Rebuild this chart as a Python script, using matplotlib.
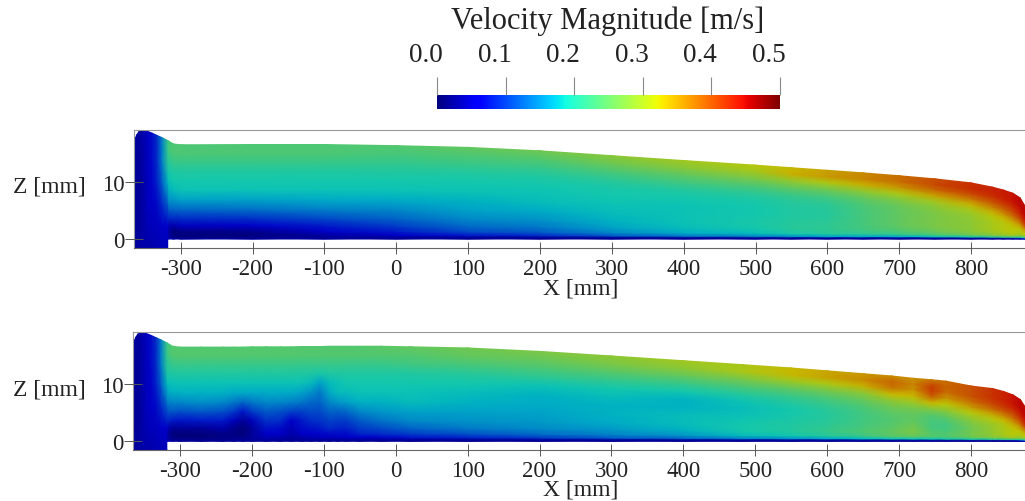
import numpy as np
import matplotlib
matplotlib.use('Agg')
import matplotlib.pyplot as plt
from matplotlib.colors import ListedColormap

plt.rcParams['font.family'] = ['Liberation Serif', 'DejaVu Serif']
plt.rcParams['axes.unicode_minus'] = False

W, H = 1025, 502

# height levels as a fraction of the local free surface, wall to surface
levels = [0, .015, .04, .08, .14, .22, .32, .42, .52, .62, .72, .82, .91, 1]

# inlet block, from Z=-1.5 up to the surface
inlet_x = [-365.6, -365, -363.5, -361, -358, -354, -347, -340, -333, -326, -318]
inlet_surface = [16, 16.8, 17.5, 18.2, 18.75, 19, 18.85, 18.5, 18.1, 17.7, 17.2]
inlet_levels = [0, .2, .4, .6, .8, 1]
inlet_u = [
    [.03, .03, .03, .03, .03, .03],
    [.03, .03, .03, .03, .03, .03],
    [.03, .03, .03, .03, .03, .035],
    [.035, .03, .03, .03, .03, .035],
    [.035, .03, .03, .03, .03, .035],
    [.04, .035, .035, .035, .035, .04],
    [.04, .045, .05, .05, .05, .05],
    [.04, .05, .06, .065, .07, .07],
    [.045, .05, .07, .085, .09, .09],
    [.045, .055, .09, .12, .14, .14],
    [.05, .06, .12, .175, .21, .22],
]

# top panel, one row per station
top_x = [-318, -310, -300, -200, -100, 0, 100, 200, 300, 400, 500, 550, 600,
         650, 700, 750, 800, 830, 845, 858, 868, 875]
top_surface = [17.2, 16.6, 16.45, 16.5, 16.5, 16.3, 16.0, 15.4, 14.55, 13.7, 12.9,
               12.45, 12.0, 11.55, 11.05, 10.5, 9.8, 9.05, 8.55, 8.0, 7.2, 5.76]
top_u = [
    [.05, .04, .04, .04, .05, .09, .13, .16, .175, .185, .195, .21, .225, .225],
    [.04, .02, .015, .015, .04, .09, .13, .16, .18, .19, .2, .22, .235, .235],
    [.035, .02, .015, .02, .05, .09, .13, .165, .185, .19, .2, .22, .235, .235],
    [.035, .025, .015, .025, .06, .095, .135, .165, .185, .19, .2, .22, .235, .235],
    [.035, .03, .035, .055, .08, .11, .145, .17, .185, .19, .2, .22, .235, .235],
    [.03, .03, .055, .08, .10, .125, .15, .17, .185, .19, .2, .215, .23, .24],
    [.03, .03, .08, .11, .13, .15, .165, .175, .185, .19, .2, .22, .235, .25],
    [.03, .03, .09, .12, .14, .155, .17, .18, .185, .19, .2, .22, .24, .26],
    [.03, .03, .12, .15, .165, .175, .18, .185, .19, .195, .21, .235, .26, .28],
    [.03, .03, .14, .17, .18, .185, .185, .185, .19, .2, .225, .25, .28, .30],
    [.03, .03, .15, .18, .19, .195, .19, .19, .195, .21, .235, .27, .30, .315],
    [.03, .03, .16, .195, .205, .205, .2, .2, .205, .22, .25, .29, .335, .33],
    [.03, .03, .17, .205, .21, .21, .205, .205, .21, .23, .26, .31, .35, .345],
    [.03, .03, .17, .21, .225, .23, .23, .23, .235, .25, .285, .335, .365, .36],
    [.03, .03, .17, .22, .24, .25, .25, .25, .255, .275, .31, .355, .38, .38],
    [.03, .03, .185, .24, .26, .27, .27, .27, .28, .30, .345, .385, .405, .40],
    [.03, .03, .2, .265, .28, .285, .285, .29, .305, .335, .375, .41, .425, .42],
    [.03, .03, .21, .28, .30, .305, .305, .315, .335, .37, .40, .42, .43, .43],
    [.03, .03, .22, .29, .31, .315, .315, .33, .36, .39, .415, .43, .435, .435],
    [.03, .04, .22, .30, .32, .32, .33, .355, .385, .41, .425, .44, .44, .44],
    [.04, .05, .2, .28, .31, .32, .345, .38, .41, .43, .44, .45, .45, .45],
    [.05, .08, .2, .28, .32, .335, .37, .41, .43, .44, .45, .45, .45, .44],
]

# bottom panel, one row per station
bottom_x = [-318, -310, -300, -270, -240, -225, -212, -200, -180, -160, -145, -130,
            -118, -105, -92, -80, -68, -50, -20, 20, 100, 200, 300, 400, 480, 550,
            600, 650, 690, 720, 745, 765, 800, 830, 845, 858, 868, 875]
bottom_surface = [17.2, 16.6, 16.45, 16.45, 16.45, 16.45, 16.45, 16.5, 16.5, 16.5, 16.5,
                  16.55, 16.55, 16.55, 16.6, 16.6, 16.6, 16.6, 16.6, 16.5, 16.3, 15.7,
                  14.9, 14.07, 13.4, 12.8, 12.3, 11.8, 11.4, 11.0, 10.75, 10.5, 9.65,
                  9.2, 8.7, 8.1, 7.3, 6.0]
bottom_u = [
    [.05, .04, .04, .04, .05, .09, .12, .15, .17, .185, .2, .21, .225, .22],
    [.04, .025, .02, .015, .03, .08, .12, .15, .175, .185, .2, .22, .24, .24],
    [.03, .025, .015, .015, .03, .075, .115, .15, .175, .185, .2, .22, .24, .24],
    [.03, .025, .015, .015, .03, .08, .12, .155, .175, .185, .2, .22, .24, .24],
    [.03, .025, .02, .02, .04, .08, .115, .15, .175, .185, .2, .22, .24, .24],
    [.03, .03, .02, .02, .025, .05, .10, .14, .17, .185, .2, .22, .24, .24],
    [.03, .03, .02, .015, .015, .03, .08, .13, .17, .185, .2, .22, .24, .24],
    [.03, .03, .03, .03, .03, .05, .10, .14, .17, .185, .2, .22, .24, .24],
    [.03, .035, .045, .06, .075, .095, .12, .15, .17, .185, .2, .22, .24, .24],
    [.03, .03, .04, .055, .07, .09, .115, .15, .17, .185, .2, .22, .24, .24],
    [.03, .03, .03, .04, .045, .06, .105, .145, .17, .185, .2, .22, .24, .24],
    [.03, .03, .04, .06, .07, .08, .105, .14, .165, .185, .2, .22, .24, .24],
    [.03, .03, .045, .06, .075, .09, .11, .13, .155, .18, .2, .22, .24, .24],
    [.03, .03, .05, .065, .08, .095, .11, .125, .14, .165, .195, .22, .24, .24],
    [.03, .03, .05, .07, .09, .105, .125, .15, .17, .18, .2, .22, .24, .24],
    [.03, .03, .05, .07, .085, .10, .125, .16, .18, .185, .2, .22, .24, .24],
    [.03, .03, .055, .07, .085, .10, .13, .165, .18, .19, .2, .22, .24, .24],
    [.03, .03, .06, .085, .10, .12, .15, .175, .185, .19, .2, .22, .24, .24],
    [.03, .03, .065, .09, .11, .135, .16, .175, .185, .19, .2, .22, .24, .245],
    [.03, .03, .075, .10, .125, .15, .165, .18, .185, .19, .2, .225, .24, .25],
    [.03, .03, .085, .115, .14, .155, .165, .175, .18, .19, .205, .23, .25, .26],
    [.03, .03, .10, .13, .15, .16, .165, .17, .175, .185, .21, .235, .255, .27],
    [.03, .03, .12, .145, .16, .17, .175, .175, .18, .19, .215, .245, .27, .285],
    [.03, .03, .13, .16, .175, .18, .18, .175, .175, .19, .22, .255, .285, .30],
    [.03, .03, .15, .18, .19, .19, .185, .18, .185, .205, .235, .27, .305, .305],
    [.03, .03, .16, .19, .2, .2, .195, .19, .2, .22, .25, .295, .33, .33],
    [.03, .03, .17, .205, .215, .21, .205, .205, .215, .235, .265, .31, .345, .34],
    [.03, .03, .18, .22, .235, .23, .225, .225, .235, .255, .285, .335, .36, .35],
    [.03, .03, .19, .245, .25, .245, .24, .245, .26, .285, .33, .375, .385, .36],
    [.03, .03, .19, .25, .27, .265, .25, .25, .265, .295, .33, .355, .365, .355],
    [.03, .03, .19, .24, .24, .23, .23, .24, .275, .33, .385, .415, .41, .37],
    [.03, .03, .2, .235, .235, .225, .23, .25, .285, .32, .355, .38, .385, .38],
    [.03, .03, .2, .26, .265, .26, .27, .29, .315, .35, .38, .40, .40, .40],
    [.03, .03, .21, .28, .29, .29, .295, .315, .345, .385, .41, .42, .42, .42],
    [.03, .03, .22, .29, .305, .305, .31, .33, .365, .40, .42, .43, .43, .43],
    [.03, .04, .22, .30, .32, .32, .33, .355, .385, .41, .43, .44, .44, .44],
    [.04, .05, .2, .28, .31, .32, .345, .38, .41, .43, .44, .45, .45, .45],
    [.05, .08, .2, .28, .32, .335, .37, .41, .43, .44, .45, .45, .45, .44],
]

xticks = [-300, -200, -100, 0, 100, 200, 300, 400, 500, 600, 700, 800]
zticks = [0, 10]
cbar_ticks = [0.0, 0.1, 0.2, 0.3, 0.4, 0.5]

# the field is lit in the original so it looks darker than the colour bar
jet = plt.get_cmap('jet')
shaded = jet(np.linspace(0, 1, 256))
shaded[:, :3] *= 0.78
field_cmap = ListedColormap(shaded)


def px_axes(fig, left, top, right, bottom):
    return fig.add_axes([left / W, 1 - bottom / H, (right - left) / W, (bottom - top) / H])


def draw_mesh(ax, x, surface, fractions, u, base=0.0):
    x = np.array(x)
    surface = np.array(surface)
    fractions = np.array(fractions)
    xx = np.repeat(x[:, None], len(fractions), axis=1)
    zz = base + np.outer(surface - base, fractions)
    ax.pcolormesh(xx, zz, np.array(u), shading='gouraud', cmap=field_cmap,
                  vmin=0, vmax=0.5, rasterized=True)


def draw_panel(fig, box, xlim, zlim, x, surface, u, xlabel_y, zlabel_y):
    ax = px_axes(fig, *box)
    draw_mesh(ax, x, surface, levels, u)
    draw_mesh(ax, inlet_x, inlet_surface, inlet_levels, inlet_u, base=-1.5)
    ax.set_xlim(xlim)
    ax.set_ylim(zlim)
    ax.set_xticks(xticks)
    ax.set_yticks(zticks)
    ax.tick_params(axis='x', direction='inout', length=9, width=0.7, color='#555555',
                   labelsize=16.5, labelcolor='#222222', pad=3)
    ax.tick_params(axis='y', direction='inout', length=13, width=0.7, color='#555555',
                   labelsize=16.5, labelcolor='#222222', pad=0)
    ax.spines['right'].set_visible(False)
    ax.spines['top'].set_color('#999999')
    ax.spines['left'].set_color('#999999')
    ax.spines['bottom'].set_color('#666666')
    ax.set_axisbelow(False)
    fig.text(581 / W, 1 - xlabel_y / H, 'X [mm]', ha='center', va='center',
             fontsize=17, color='#222222')
    fig.text(49 / W, 1 - zlabel_y / H, 'Z [mm]', ha='center', va='center',
             fontsize=17, color='#222222')
    return ax


fig = plt.figure(figsize=(W / 100, H / 100), dpi=100)

draw_panel(fig, (133.5, 131.3, 1025, 248.5), (-365.6, 875), (-1.48, 18.98),
           top_x, top_surface, top_u, 288.5, 187)
draw_panel(fig, (133, 333.3, 1025, 451), (-365, 874.7), (-1.52, 19.03),
           bottom_x, bottom_surface, bottom_u, 490, 390)

# colour bar
cax = px_axes(fig, 437, 96, 780, 110)
cax.imshow(np.linspace(0, 0.5, 256)[None, :], cmap=jet, aspect='auto', extent=(0, 0.5, 0, 1))
cax.set_yticks([])
cax.set_xticks(cbar_ticks)
cax.tick_params(axis='x', top=True, bottom=False, labelbottom=False, direction='out',
                length=13, width=0.8, color='#888888')
for side in cax.spines.values():
    side.set_visible(False)
for v in cbar_ticks:
    cax.annotate(f'{v:.1f}', (v, 1), xytext=(-8, 29), textcoords='offset points',
                 ha='center', va='center', fontsize=19.5, color='#222222',
                 annotation_clip=False)
fig.text(608 / W, 1 - 21.5 / H, 'Velocity Magnitude [m/s]', ha='center', va='center',
         fontsize=22, color='#222222')

plt.savefig('out.png', dpi=100)
